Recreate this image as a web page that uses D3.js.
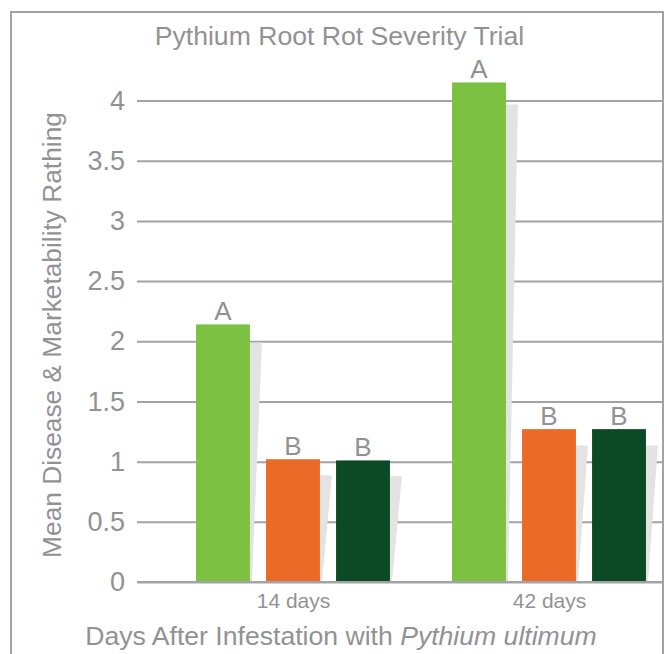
<!DOCTYPE html>
<html>
<head>
<meta charset="utf-8">
<script src="https://cdn.jsdelivr.net/npm/d3@7"></script>
<style>
body { margin: 0; background: #fff; }
text { font-family: "Liberation Sans", Arial, sans-serif; fill: #929295; }
</style>
</head>
<body>
<div id="chart"></div>
<script>
var svgWidth = 666;
var svgHeight = 654;

var days = ["14 days", "42 days"];
var treatments = ["t1", "t2", "t3"];
var colors = ["#7dc142", "#eb6a28", "#0b4a25"];
var values14 = [2.14, 1.02, 1.01];
var values42 = [4.15, 1.27, 1.27];
var letters14 = ["A", "B", "B"];
var letters42 = ["A", "B", "B"];
var yTicks = [0, 0.5, 1, 1.5, 2, 2.5, 3, 3.5, 4];

var data = [];
days.forEach(function(d, i) {
    var vals = i === 0 ? values14 : values42;
    var lets = i === 0 ? letters14 : letters42;
    treatments.forEach(function(t, j) {
        data.push({day: d, t: t, value: vals[j], letter: lets[j], color: colors[j]});
    });
});

var svg = d3.select("#chart")
    .append("svg")
    .attr("width", svgWidth)
    .attr("height", svgHeight);

// outer frame
svg.append("rect")
    .attr("x", 11).attr("y", 12)
    .attr("width", 652).attr("height", 700)
    .attr("fill", "none")
    .attr("stroke", "#a3a3a5")
    .attr("stroke-width", 2);

var plotLeft = 137, plotRight = 663;

var y = d3.scaleLinear()
    .domain([0, 4])
    .range([582, 100.5]);

var x0 = d3.scalePoint()
    .domain(days)
    .range([293, 549]);

var x1 = d3.scaleBand()
    .domain(treatments)
    .range([-105, 105])
    .paddingInner(0.23)
    .paddingOuter(0.115);

// gridlines + y tick labels
var yAxis = svg.append("g")
    .attr("transform", `translate(${plotLeft},0)`)
    .call(d3.axisLeft(y).tickValues(yTicks).tickSize(-(plotRight - plotLeft)).tickPadding(12).tickFormat(d3.format("")));
yAxis.select(".domain").remove();
yAxis.selectAll("line").attr("stroke", "#a3a3a5").attr("stroke-width", 2);
yAxis.selectAll("text").attr("font-size", 27).attr("fill", "#929295");

// shadows
svg.append("g").selectAll("polygon")
    .data(data)
    .enter()
    .append("polygon")
    .attr("fill", "#e3e3e3")
    .attr("points", function(d) {
        var r = x0(d.day) + x1(d.t) + x1.bandwidth();
        var top = y(d.value);
        var h = y(0) - top;
        var st = top + 14 + 0.016 * h;
        return [[r, st], [r + 12, st], [r + 2, y(0)], [r, y(0)]].map(p => p.join(",")).join(" ");
    });

// bars
svg.append("g").selectAll("rect")
    .data(data)
    .enter()
    .append("rect")
    .attr("x", d => x0(d.day) + x1(d.t))
    .attr("y", d => y(d.value))
    .attr("width", x1.bandwidth())
    .attr("height", d => y(0) - y(d.value))
    .attr("fill", d => d.color);

// zero line on top of bars
svg.append("line")
    .attr("x1", plotLeft).attr("x2", plotRight)
    .attr("y1", y(0)).attr("y2", y(0))
    .attr("stroke", "#a3a3a5")
    .attr("stroke-width", 2);

// letters
svg.append("g").selectAll("text")
    .data(data)
    .enter()
    .append("text")
    .attr("x", d => x0(d.day) + x1(d.t) + x1.bandwidth() / 2)
    .attr("y", d => y(d.value) - 4)
    .attr("text-anchor", "middle")
    .attr("font-size", 26)
    .text(d => d.letter);

// x axis labels
var xAxis = svg.append("g")
    .attr("transform", `translate(0,${y(0)})`)
    .call(d3.axisBottom(x0).tickSize(0).tickPadding(11));
xAxis.select(".domain").remove();
xAxis.selectAll("text").attr("font-size", 21).attr("fill", "#929295");

// title
svg.append("text")
    .attr("x", 339.5)
    .attr("y", 45)
    .attr("text-anchor", "middle")
    .attr("font-size", 26.6)
    .text("Pythium Root Rot Severity Trial");

// y axis title
svg.append("text")
    .attr("transform", "translate(61,335) rotate(-90)")
    .attr("text-anchor", "middle")
    .attr("font-size", 26.3)
    .text("Mean Disease & Marketability Rathing");

// x axis title
var xt = svg.append("text")
    .attr("x", 341)
    .attr("y", 645)
    .attr("text-anchor", "middle")
    .attr("font-size", 26.6);
xt.append("tspan").text("Days After Infestation with ");
xt.append("tspan").attr("font-style", "italic").text("Pythium ultimum");
</script>
</body>
</html>
